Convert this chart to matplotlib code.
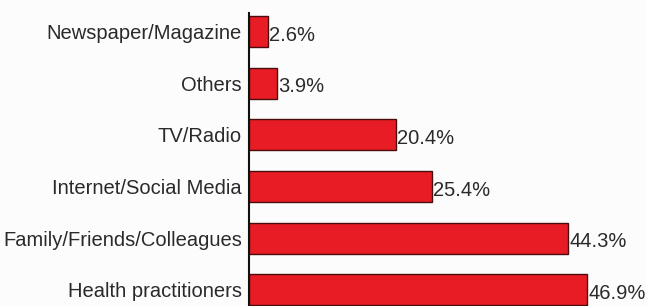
import matplotlib
matplotlib.use("Agg")
import matplotlib.pyplot as plt

# data, bottom to top
categories = ["Health practitioners", "Family/Friends/Colleagues", "Internet/Social Media",
              "TV/Radio", "Others", "Newspaper/Magazine"]
values = [46.9, 44.3, 25.4, 20.4, 3.9, 2.6]

plt.rcParams['font.family'] = ['Liberation Sans', 'DejaVu Sans']

fig = plt.figure(figsize=(6.46, 3.06), dpi=100, facecolor="#fcfcfc")
ax = fig.add_axes([0.3854, 0.0, 0.613, 0.9575])
ax.set_facecolor("#fcfcfc")

pos = list(range(len(categories)))
ax.barh(pos, values, height=0.6, color="#e81c24", edgecolor="#4a0d0d", linewidth=1.0)
for p, v in zip(pos, values):
    ax.text(v + 0.2, p - 0.07, "{}%".format(v), va="center", ha="left", fontsize=14.5, color="#2a2a2a")

ax.set_yticks(pos)
ax.set_yticklabels(categories, fontsize=14.5, color="#2a2a2a")
ax.tick_params(axis="y", length=0, pad=5)
ax.set_xticks([])
ax.set_xlim(0, 55)
ax.set_ylim(-0.31, 5.36)
for s in ["top", "right", "bottom"]:
    ax.spines[s].set_visible(False)
ax.spines["left"].set_linewidth(1.5)
ax.spines["left"].set_color("#111111")

fig.savefig("out.png", dpi=100, facecolor=fig.get_facecolor())
